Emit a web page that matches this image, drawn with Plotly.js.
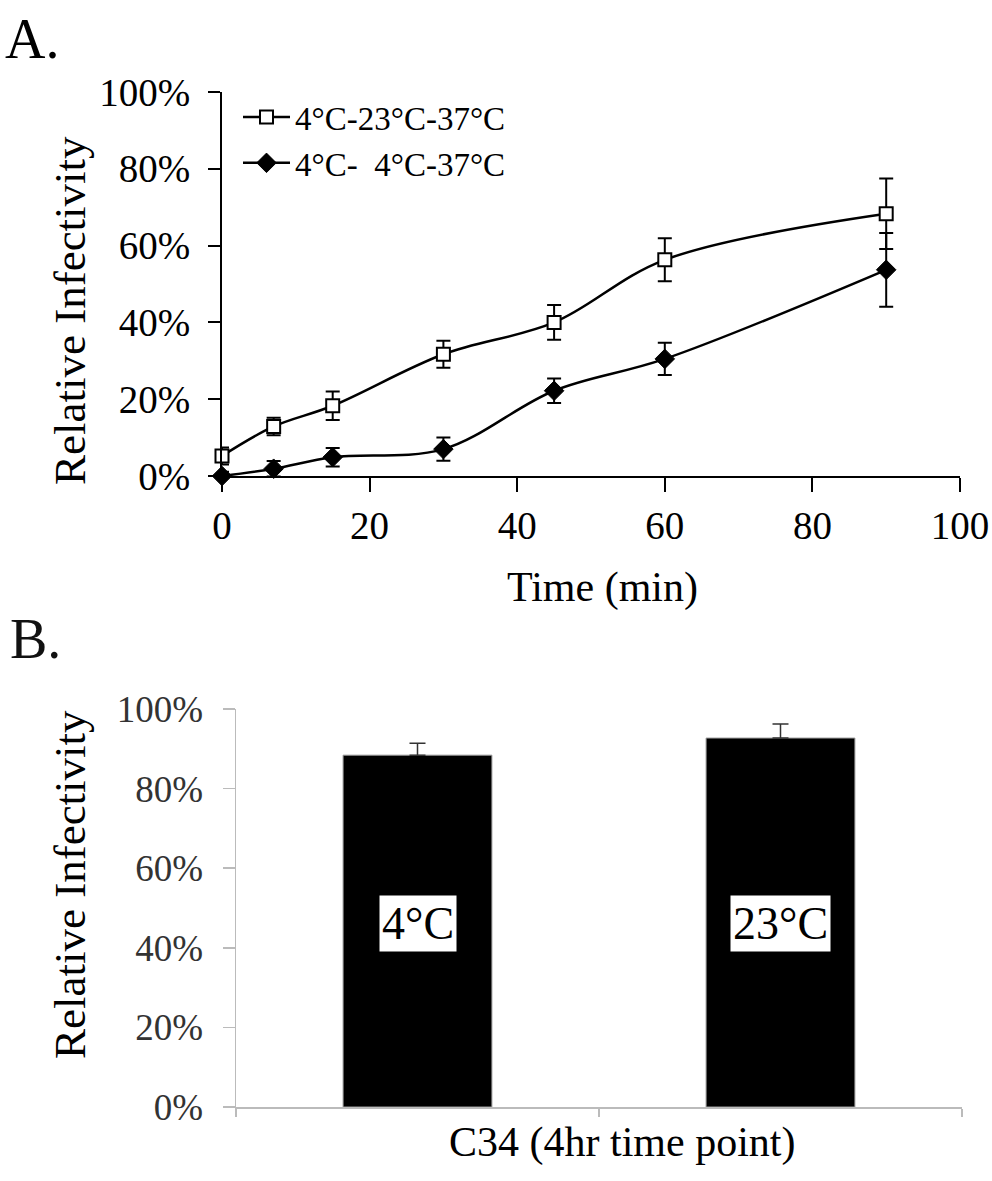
<!DOCTYPE html>
<html>
<head>
<meta charset="utf-8">
<script src="https://cdn.plot.ly/plotly-3.0.1.min.js"></script>
<style>html,body{margin:0;padding:0;background:#fff;}#chart{width:992px;height:1181px;}</style>
</head>
<body>
<div id="chart"></div>
<script>
// ---- Panel A data ----
const timeMin = [0, 7, 15, 30, 45, 60, 90];
const seriesNames = ['4°C-23°C-37°C', '4°C-\u00a0 4°C-37°C'];
const infect23 = [5.2, 12.9, 18.3, 31.7, 40.0, 56.3, 68.3];
const err23 = [2.2, 2.3, 3.7, 3.5, 4.5, 5.6, 9.2];
const infect4 = [0.0, 1.9, 4.9, 7.0, 22.2, 30.5, 53.7];
const err4 = [1.1, 2.0, 2.4, 3.0, 3.2, 4.2, 9.6];
const xTicksA = [0, 20, 40, 60, 80, 100];
const yTicks = [0, 20, 40, 60, 80, 100];
const yTickText = ['0%', '20%', '40%', '60%', '80%', '100%'];

// ---- Panel B data ----
const barCats = ['4°C', '23°C'];
const barLabels = ['4°C', '23°C'];
const barVals = [88.4, 92.7];
const barErr = [3.0, 3.5];
const barLabelY = [46, 46];

const serif = 'Liberation Serif, Times New Roman, serif';

const traces = [
  {
    x: timeMin, y: infect23, name: seriesNames[0], type: 'scatter', mode: 'lines+markers',
    xaxis: 'x', yaxis: 'y', cliponaxis: false,
    line: {color: 'black', width: 2.5, shape: 'spline', smoothing: 1},
    marker: {symbol: 'square', size: 13, color: 'white', line: {color: 'black', width: 2}},
    error_y: {type: 'data', array: err23, visible: true, color: 'black', thickness: 2, width: 7}
  },
  {
    x: timeMin, y: infect4, name: seriesNames[1], type: 'scatter', mode: 'lines+markers',
    xaxis: 'x', yaxis: 'y', cliponaxis: false,
    line: {color: 'black', width: 2.5, shape: 'spline', smoothing: 1},
    marker: {symbol: 'diamond', size: 15, color: 'black', line: {color: 'black', width: 1}},
    error_y: {type: 'data', array: err4, visible: true, color: 'black', thickness: 2, width: 7}
  },
  {
    x: barCats, y: barVals, type: 'bar', xaxis: 'x2', yaxis: 'y2', showlegend: false,
    marker: {color: 'black', line: {color: '#9a9a9a', width: 1}},
    error_y: {type: 'data', symmetric: false, array: barErr, arrayminus: [0, 0], visible: true, color: '#333', thickness: 1.5, width: 8}
  }
];

const annotations = [
  {text: 'A.', xref: 'paper', yref: 'paper', x: 3/992, y: 1 - 6/1181, xanchor: 'left', yanchor: 'top', showarrow: false, font: {family: serif, size: 56, color: 'black'}},
  {text: 'B.', xref: 'paper', yref: 'paper', x: 8/992, y: 1 - 606/1181, xanchor: 'left', yanchor: 'top', showarrow: false, font: {family: serif, size: 56, color: '#111'}},
  // axis titles placed as in the reference
  {text: 'Relative Infectivity', xref: 'paper', yref: 'paper', x: 70/992, y: 1 - 311/1181, xanchor: 'center', yanchor: 'middle', textangle: -90, showarrow: false, font: {family: serif, size: 45, color: 'black'}},
  {text: 'Time (min)', xref: 'paper', yref: 'paper', x: 602/992, y: 1 - 587/1181, xanchor: 'center', yanchor: 'middle', showarrow: false, font: {family: serif, size: 42, color: 'black'}},
  {text: 'Relative Infectivity', xref: 'paper', yref: 'paper', x: 70/992, y: 1 - 885/1181, xanchor: 'center', yanchor: 'middle', textangle: -90, showarrow: false, font: {family: serif, size: 45, color: 'black'}},
  {text: 'C34 (4hr time point)', xref: 'paper', yref: 'paper', x: 622/992, y: 1 - 1142/1181, xanchor: 'center', yanchor: 'middle', showarrow: false, font: {family: serif, size: 42, color: 'black'}}
];
barCats.forEach((c, i) => {
  annotations.push({text: barLabels[i], x: c, y: barLabelY[i], xref: 'x2', yref: 'y2', showarrow: false,
    bgcolor: 'white', borderpad: 2, font: {family: serif, size: 46, color: 'black'}});
});

const layout = {
  width: 992, height: 1181,
  margin: {l: 0, r: 0, t: 0, b: 0},
  paper_bgcolor: 'white', plot_bgcolor: 'white',
  font: {family: serif, color: 'black'},
  showlegend: true,
  bargap: 0.59,
  legend: {x: 238/992, y: 1 - 89/1181, xanchor: 'left', yanchor: 'top', bgcolor: 'rgba(0,0,0,0)',
    font: {family: serif, size: 33, color: 'black'}, tracegroupgap: 0, itemwidth: 47},
  xaxis: {
    domain: [222/992, 960/992], range: [0, 100], anchor: 'y',
    tickvals: xTicksA, ticks: 'outside', ticklen: 14, tickwidth: 2, tickcolor: 'black',
    showline: true, linewidth: 2, linecolor: 'black', showgrid: false, zeroline: false,
    tickfont: {family: serif, size: 39, color: 'black'}
  },
  yaxis: {
    domain: [1 - 476/1181, 1 - 92/1181], range: [0, 100], anchor: 'x',
    tickvals: yTicks, ticktext: yTickText, ticks: 'outside', ticklen: 12, tickwidth: 2, tickcolor: 'black',
    showline: true, linewidth: 2, linecolor: 'black', showgrid: false, zeroline: false,
    tickfont: {family: serif, size: 39, color: 'black'}, ticklabelstandoff: 10
  },
  xaxis2: {
    domain: [236/992, 962/992], anchor: 'y2', type: 'category',
    tickson: 'boundaries', ticks: 'outside', ticklen: 8, tickwidth: 1.5, tickcolor: '#bbb',
    showticklabels: false, showline: true, linewidth: 1.5, linecolor: '#bbb', showgrid: false, zeroline: false
  },
  yaxis2: {
    domain: [1 - 1107/1181, 1 - 709/1181], range: [0, 100], anchor: 'x2',
    tickvals: yTicks, ticktext: yTickText, ticks: 'outside', ticklen: 12, tickwidth: 1.5, tickcolor: '#bbb',
    showline: true, linewidth: 1.5, linecolor: '#bbb', showgrid: false, zeroline: false,
    tickfont: {family: serif, size: 37, color: '#333'}, ticklabelstandoff: 12
  },
  annotations: annotations
};

Plotly.newPlot('chart', traces, layout, {staticPlot: true, displayModeBar: false});
</script>
</body>
</html>
